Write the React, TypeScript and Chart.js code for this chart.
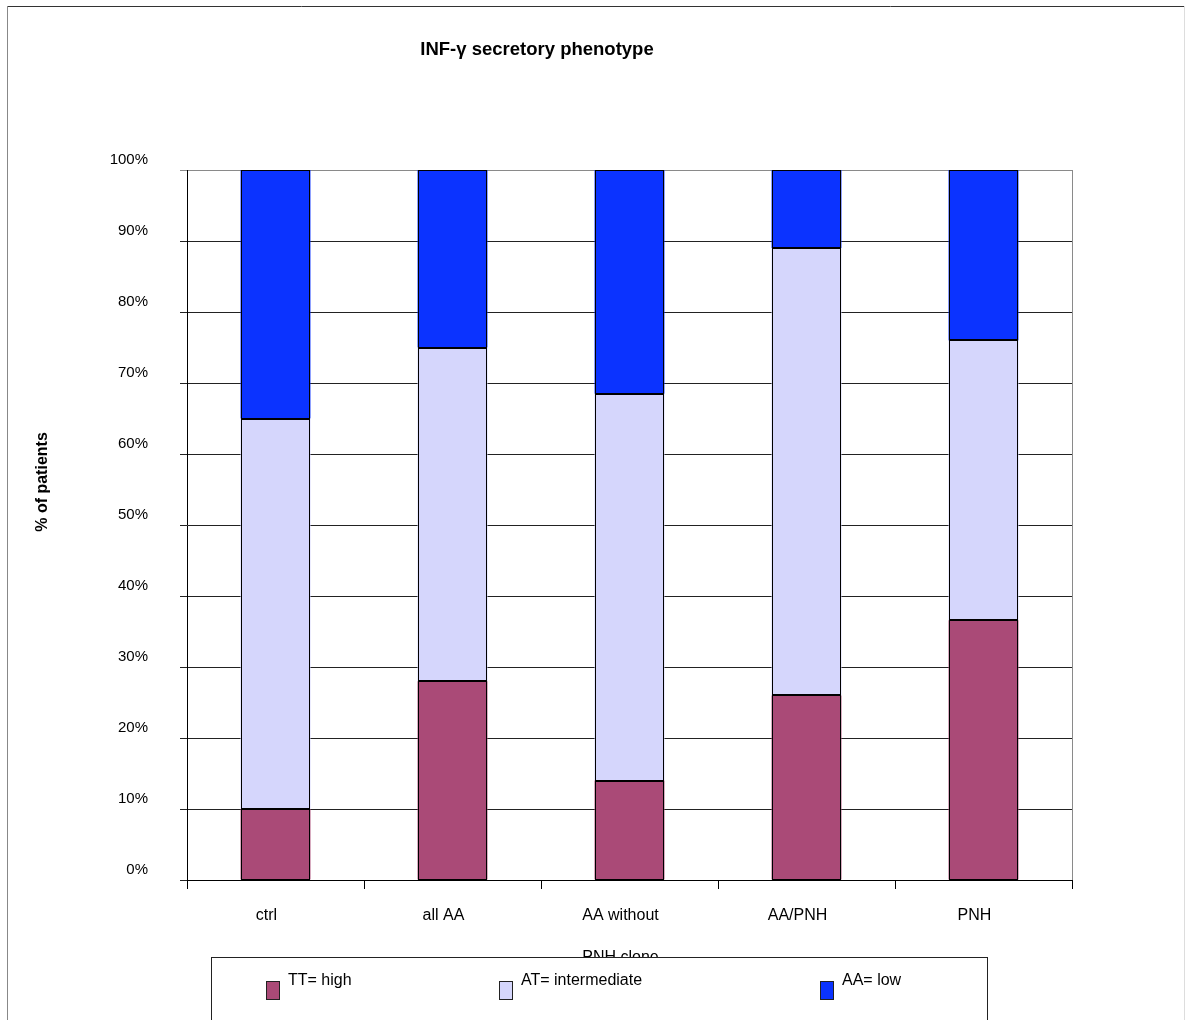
import React, { useEffect, useRef } from "react";
import { Chart, registerables } from "chart.js";

Chart.register(...registerables);

const categories: (string | string[])[] = ["ctrl", "all AA", ["AA without", "PNH clone"], "AA/PNH", "PNH"];
const seriesNames = ["TT= high", "AT= intermediate", "AA= low"];
const ttHigh = [10, 28, 14, 26, 36.6];
const atIntermediate = [55, 47, 54.5, 63, 39.4];
const aaLow = [35, 25, 31.5, 11, 24];
const seriesColors = ["#AA4A77", "#D5D6FC", "#0B33FF"];
const yTicks = [0, 10, 20, 30, 40, 50, 60, 70, 80, 90, 100];

const FONT = "Arial, 'Liberation Sans', Helvetica, sans-serif";

const barOutlinePlugin = {
  id: "barOutline",
  afterDatasetsDraw(chart: any) {
    const ctx = chart.ctx as CanvasRenderingContext2D;
    ctx.save();
    ctx.strokeStyle = "#000";
    ctx.lineWidth = 1;
    chart.data.datasets.forEach((_: any, di: number) => {
      const meta = chart.getDatasetMeta(di);
      meta.data.forEach((bar: any) => {
        const p = bar.getProps(["x", "y", "base", "width"], true);
        const left = Math.round(p.x - p.width / 2) + 0.5;
        const right = Math.round(p.x + p.width / 2) - 0.5;
        const top = Math.round(Math.min(p.y, p.base)) + 0.5;
        const bottom = Math.round(Math.max(p.y, p.base)) - 0.5;
        ctx.strokeRect(left, top, right - left, bottom - top);
      });
    });
    ctx.restore();
  },
};

const decorPlugin = {
  id: "decor",
  afterDraw(chart: any) {
    const ctx = chart.ctx as CanvasRenderingContext2D;
    const area = chart.chartArea;
    ctx.save();
    // plot area right border
    ctx.strokeStyle = "#8a8a8a";
    ctx.lineWidth = 1;
    ctx.beginPath();
    ctx.moveTo(Math.round(area.right) + 0.5, area.top);
    ctx.lineTo(Math.round(area.right) + 0.5, area.bottom);
    ctx.stroke();

    // title
    ctx.fillStyle = "#000";
    ctx.font = `bold 18.5px ${FONT}`;
    ctx.textAlign = "center";
    ctx.textBaseline = "middle";
    ctx.fillText("INF-\u03b3 secretory phenotype", 537, 50);

    // y axis title
    ctx.save();
    ctx.translate(43, 482);
    ctx.rotate(-Math.PI / 2);
    ctx.font = `bold 16px ${FONT}`;
    ctx.fillText("% of patients", 0, 0);
    ctx.restore();

    // legend box
    ctx.fillStyle = "#fff";
    ctx.fillRect(211, 957, 777, 80);
    ctx.strokeStyle = "#222";
    ctx.strokeRect(211.5, 957.5, 776, 80);
    const markerX = [266, 499, 820];
    chart.data.datasets.forEach((ds: any, i: number) => {
      ctx.fillStyle = ds.backgroundColor;
      ctx.fillRect(markerX[i], 981, 14, 19);
      ctx.strokeStyle = "#222";
      ctx.strokeRect(markerX[i] + 0.5, 981.5, 13, 18);
      ctx.fillStyle = "#000";
      ctx.font = `16px ${FONT}`;
      ctx.textAlign = "left";
      ctx.textBaseline = "alphabetic";
      ctx.fillText(ds.label, markerX[i] + 22, 985);
    });

    // outer frame
    ctx.strokeStyle = "#333";
    ctx.beginPath();
    ctx.moveTo(7, 6.5);
    ctx.lineTo(1185, 6.5);
    ctx.stroke();
    ctx.strokeStyle = "#888";
    ctx.beginPath();
    ctx.moveTo(7.5, 6);
    ctx.lineTo(7.5, 1020);
    ctx.stroke();
    ctx.strokeStyle = "#ddd";
    ctx.beginPath();
    ctx.moveTo(1184.5, 6);
    ctx.lineTo(1184.5, 1020);
    ctx.stroke();
    ctx.restore();
  },
};

export default function App() {
  const ref = useRef<HTMLCanvasElement | null>(null);

  useEffect(() => {
    if (!ref.current) return;
    const values = [ttHigh, atIntermediate, aaLow];
    const chart = new Chart(ref.current, {
      type: "bar",
      data: {
        labels: categories,
        datasets: seriesNames.map((name, i) => ({
          label: name,
          data: values[i],
          backgroundColor: seriesColors[i],
          borderWidth: 0,
          barPercentage: 0.395,
          categoryPercentage: 1,
        })),
      },
      options: {
        responsive: false,
        animation: false,
        layout: { padding: { left: 0, top: 170, right: 113, bottom: 0 } },
        plugins: {
          legend: { display: false },
          title: { display: false },
          tooltip: { enabled: false },
        },
        scales: {
          x: {
            stacked: true,
            offset: true,
            afterFit: (s: any) => {
              s.height = 140;
            },
            grid: {
              offset: true,
              drawOnChartArea: false,
              drawTicks: true,
              tickLength: 9,
              color: "#000",
            },
            border: { color: "#000", width: 1 },
            ticks: {
              color: "#000",
              font: { family: FONT, size: 16, lineHeight: 2.6 },
              padding: 6,
              labelOffset: -9,
              maxRotation: 0,
              autoSkip: false,
            },
          },
          y: {
            stacked: true,
            min: 0,
            max: 100,
            afterFit: (s: any) => {
              s.width = 187;
            },
            afterBuildTicks: (s: any) => {
              s.ticks = yTicks.map((v) => ({ value: v }));
            },
            grid: {
              color: (c: any) => (c.tick && c.tick.value === 100 ? "#8a8a8a" : "#222"),
              tickLength: 7,
              drawTicks: true,
            },
            border: { color: "#000", width: 1 },
            ticks: {
              color: "#000",
              font: { family: FONT, size: 15, lineHeight: 1.4 },
              padding: 32,
              callback: (v: any) => [`${v}%`, ""],
            },
          },
        },
      },
      plugins: [barOutlinePlugin, decorPlugin],
    });
    return () => chart.destroy();
  }, []);

  return (
    <div style={{ position: "absolute", left: 0, top: 0, width: 1185, height: 1020, background: "#fff" }}>
      <canvas ref={ref} width={1185} height={1020} style={{ display: "block" }} />
    </div>
  );
}
